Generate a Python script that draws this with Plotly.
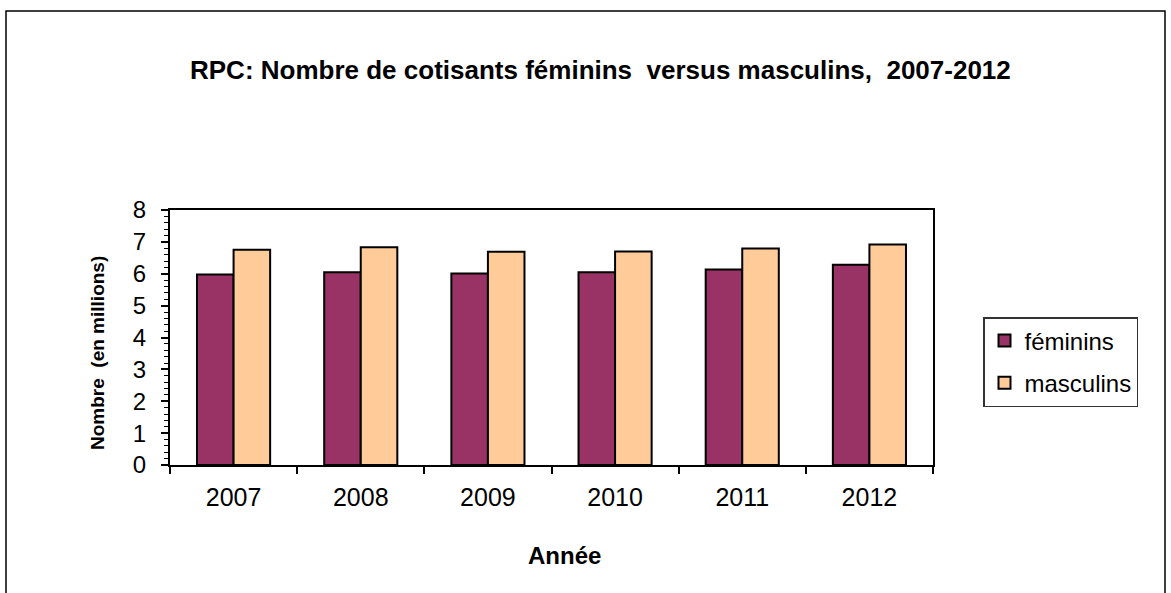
import plotly.graph_objects as go

years = ["2007", "2008", "2009", "2010", "2011", "2012"]
feminins = [5.98, 6.05, 6.01, 6.05, 6.13, 6.28]
masculins = [6.75, 6.83, 6.69, 6.70, 6.79, 6.92]
y_ticks = [0, 1, 2, 3, 4, 5, 6, 7, 8]

W, H = 1171, 593
L, R, T, B = 170, 933, 210, 465

def px(x):
    return (x - L) / (R - L)

def py(y):
    return (B - y) / (B - T)

fig = go.Figure()
fig.add_trace(go.Bar(name="féminins", x=years, y=feminins, legendgroup="f",
                     marker=dict(color="#993366", line=dict(color="black", width=2))))
fig.add_trace(go.Bar(name="masculins", x=years, y=masculins, legendgroup="m",
                     marker=dict(color="#FFCC99", line=dict(color="black", width=2))))

font = "Liberation Sans, Arial, sans-serif"

fig.update_layout(
    width=W, height=H,
    margin=dict(l=L, r=W - R, t=T, b=H - B, pad=0),
    paper_bgcolor="white", plot_bgcolor="white",
    barmode="group", bargap=0.425, bargroupgap=0,
    font=dict(family=font, color="black", size=20),
    showlegend=True,
    legend=dict(x=px(983), y=py(317), xanchor="left", yanchor="top",
                bordercolor="#333333", borderwidth=1.5, bgcolor="white",
                font=dict(size=24, family=font), tracegroupgap=8,
                traceorder="grouped", itemwidth=30),
    xaxis=dict(showline=True, linecolor="black", linewidth=2, mirror=True,
               ticks="outside", ticklen=7, tickcolor="black", tickwidth=1.5,
               tickson="boundaries", tickfont=dict(size=25),
               ticklabelstandoff=9, showgrid=False, fixedrange=True),
    yaxis=dict(range=[0, 8], tickvals=y_ticks, showline=True, linecolor="black",
               linewidth=2, mirror=True, ticks="outside", ticklen=7,
               tickcolor="black", tickwidth=1.5, tickfont=dict(size=24),
               ticklabelstandoff=10, showgrid=False, zeroline=False,
               minor=dict(dtick=0.2, ticks="outside", ticklen=4,
                          tickcolor="black", tickwidth=1, showgrid=False),
               fixedrange=True),
    annotations=[
        dict(text="<b>RPC: Nombre de cotisants féminins  versus masculins,  2007-2012</b>",
             x=px(600), y=py(70), xref="paper", yref="paper", showarrow=False,
             xanchor="center", yanchor="middle", font=dict(size=26, family=font)),
        dict(text="<b>Nombre  (en millions)</b>", textangle=-90,
             x=px(97), y=py(353), xref="paper", yref="paper", showarrow=False,
             xanchor="center", yanchor="middle", font=dict(size=19, family=font)),
        dict(text="<b>Année</b>",
             x=px(564), y=py(555), xref="paper", yref="paper", showarrow=False,
             xanchor="center", yanchor="middle", font=dict(size=24, family=font)),
    ],
    shapes=[
        dict(type="rect", xref="paper", yref="paper",
             x0=px(6), x1=px(1165), y0=py(610), y1=py(11),
             line=dict(color="black", width=1.5), fillcolor="rgba(0,0,0,0)",
             layer="below"),
    ],
)

fig.write_html("out.html", config={"displayModeBar": False},
               post_script="document.body.style.margin='0';")
